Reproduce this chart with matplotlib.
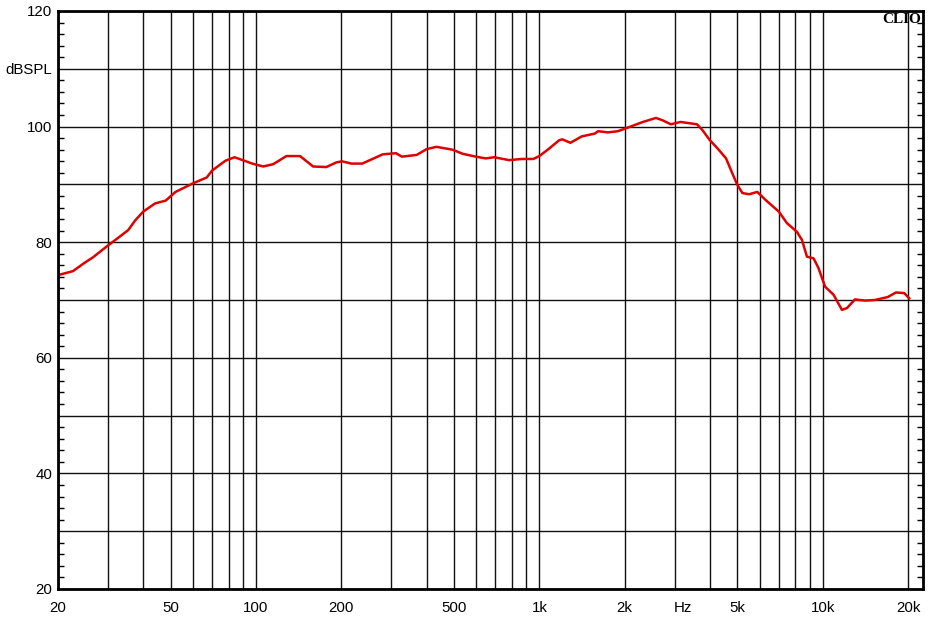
import matplotlib
matplotlib.use('Agg')
import matplotlib.pyplot as plt
from matplotlib.ticker import FixedLocator, MultipleLocator, NullFormatter

plt.rcParams['font.family'] = ['Liberation Sans', 'DejaVu Sans']

# frequency response (Hz, dB SPL)
freq = [20, 22.6, 24.6, 26.6, 29.6, 33.1, 35.4, 37.5, 40, 44, 48, 52, 60, 67, 70,
        78, 84, 97, 106, 115, 128, 143, 159, 177, 192, 201, 217, 237, 280, 312,
        327, 369, 400, 433, 494, 536, 597, 647, 693, 782, 867, 952, 1000, 1083,
        1172, 1204, 1287, 1411, 1571, 1612, 1747, 1892, 2019, 2320, 2580, 2720,
        2910, 3150, 3370, 3600, 3750, 3990, 4260, 4560, 4800, 5000, 5210, 5500,
        5880, 6290, 7000, 7480, 8110, 8450, 8800, 9290, 9670, 10200, 10930,
        11690, 12180, 13000, 14100, 15270, 16950, 18140, 19400, 20200]
spl = [74.3, 75.0, 76.3, 77.4, 79.2, 81.0, 82.1, 83.8, 85.3, 86.7, 87.2, 88.7, 90.2,
       91.2, 92.4, 94.1, 94.7, 93.6, 93.1, 93.5, 94.9, 94.9, 93.1, 93.0, 93.8,
       94.0, 93.6, 93.6, 95.2, 95.4, 94.8, 95.1, 96.1, 96.5, 96.0, 95.3, 94.8,
       94.5, 94.7, 94.2, 94.4, 94.4, 94.9, 96.2, 97.6, 97.8, 97.2, 98.3, 98.8,
       99.2, 99.0, 99.2, 99.7, 100.8, 101.5, 101.1, 100.4, 100.8, 100.6, 100.4,
       99.5, 97.7, 96.2, 94.5, 91.9, 89.9, 88.5, 88.3, 88.7, 87.3, 85.3, 83.3,
       81.8, 80.4, 77.5, 77.2, 75.5, 72.3, 70.9, 68.3, 68.6, 70.1, 69.9, 70.0,
       70.5, 71.3, 71.2, 70.3]

grid_freqs = [m * 10 ** e for e in range(1, 5) for m in range(1, 10)]
grid_freqs = [f for f in grid_freqs if 20 <= f <= 20000]
xlabels = {20: '20', 50: '50', 100: '100', 200: '200', 500: '500', 1000: '1k',
           2000: '2k', 5000: '5k', 10000: '10k', 20000: '20k'}
ylabels = {120: '120', 110: 'dBSPL', 100: '100', 80: '80', 60: '60', 40: '40', 20: '20'}

fig = plt.figure(figsize=(9.5, 6.24), dpi=100)
ax = fig.add_axes([58 / 950, 35 / 624, 865 / 950, 578 / 624])

ax.plot(freq, spl, color='#e00000', linewidth=1.8, zorder=3)

ax.set_xscale('log')
ax.set_xlim(20, 22600)
ax.set_ylim(20, 120)

ax.xaxis.set_major_locator(FixedLocator(grid_freqs))
ax.set_xticklabels([xlabels.get(f, '') for f in grid_freqs])
ax.xaxis.set_minor_formatter(NullFormatter())
ax.xaxis.set_minor_locator(FixedLocator([]))
# unit label sits between 2k and 5k, on the tick label row
ax.annotate('Hz', xy=(3200, 0), xycoords=('data', 'axes fraction'),
            xytext=(0, -9), textcoords='offset points', ha='center', va='top', fontsize=10.8)

yt = list(range(20, 121, 10))
ax.set_yticks(yt)
ax.set_yticklabels([ylabels.get(v, '') for v in yt])
ax.yaxis.set_minor_locator(MultipleLocator(2))

ax.tick_params(axis='both', which='major', length=0, labelsize=10.8)
ax.tick_params(axis='x', pad=9)
ax.tick_params(axis='y', pad=4)
ax.tick_params(axis='y', which='minor', left=True, right=True, direction='in', length=4, width=1)

ax.grid(True, which='major', color='#111111', linewidth=1)
for s in ax.spines.values():
    s.set_linewidth(2)
    s.set_zorder(4)

ax.text(0.998, 0.996, 'CLIO', transform=ax.transAxes, ha='right', va='top',
        fontsize=11, fontweight='bold', family=['Liberation Serif'])

fig.savefig('out.png', dpi=100)
